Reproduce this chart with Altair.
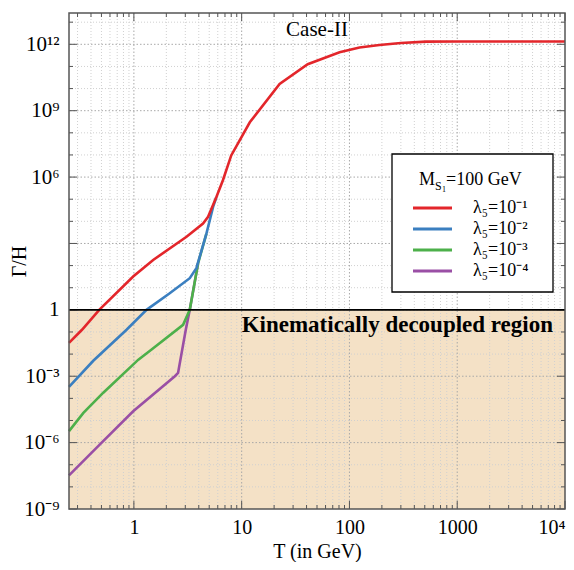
import altair as alt
import pandas as pd
import numpy as np

# ---------------- data ----------------
red_T = [0.25, 0.33, 0.477, 0.985, 1.51, 3.08, 4.38, 4.88, 5.83, 6.7, 8.0, 11.9, 22.5, 41, 81, 124, 190, 300, 515, 1000, 10000]
red_G = [3.2e-2, 1.26e-1, 1.0, 3.2e1, 1.8e2, 2.0e3, 7.9e3, 1.6e4, 1.26e5, 7.2e5, 9.5e6, 3.0e8, 1.6e10, 1.26e11, 4.4e11, 7.2e11, 9.3e11, 1.15e12, 1.32e12, 1.35e12, 1.35e12]

blue_T = [0.25, 0.42, 0.855, 1.31, 2.15, 3.3, 3.8, 4.71, 5.43, 5.83]
blue_G = [3.3e-4, 5.0e-3, 1.26e-1, 1.0, 5.6, 27, 76, 2.8e3, 4.5e4, 1.26e5]

green_T = [0.25, 0.34, 0.52, 1.1, 1.46, 2.86, 3.3, 3.94, 4.71]
green_G = [3.3e-6, 2.2e-5, 1.8e-4, 5.6e-3, 1.6e-2, 0.21, 1.0, 126, 2.8e3]

purple_T = [0.25, 0.484, 0.985, 2.4, 2.57, 3.03, 3.3, 3.94]
purple_G = [3.3e-8, 8.3e-7, 2.6e-5, 1.0e-3, 1.4e-3, 0.126, 1.0, 126]

series_labels = ["λ₅=10⁻¹", "λ₅=10⁻²", "λ₅=10⁻³", "λ₅=10⁻⁴"]
series_colors = ["#e3262b", "#3b7fc0", "#4db04a", "#9a4fa5"]
series_T = [red_T, blue_T, green_T, purple_T]
series_G = [red_G, blue_G, green_G, purple_G]

x_tick_values = [1, 10, 100, 1000, 10000]
x_tick_labels = ["1", "10", "100", "1000", "10⁴"]
y_tick_values = [1e-9, 1e-6, 1e-3, 1, 1e6, 1e9, 1e12]
y_tick_labels = ["10⁻⁹", "10⁻⁶", "10⁻³", "1", "10⁶", "10⁹", "10¹²"]

X_DOMAIN = [0.25, 1e4]
Y_DOMAIN = [1e-9, 2.6e13]
THRESHOLD = 1.0

W, H = 496, 496
FONT = "Liberation Serif"

xs = alt.Scale(type="log", domain=X_DOMAIN, nice=False)
ys = alt.Scale(type="log", domain=Y_DOMAIN, nice=False)


def label_expr(vals, labels):
    expr = "''"
    for v, l in zip(vals, labels):
        e = int(round(np.log10(v)))
        expr = f"(round(log(datum.value)/LN10) == {e}) ? '{l}' : " + expr
    return expr


# tick / grid positions
x_major = [1, 10, 100, 1000, 10000]
x_minor = [k * 10.0 ** d for d in range(-1, 4) for k in range(2, 10)
           if X_DOMAIN[0] <= k * 10.0 ** d <= X_DOMAIN[1]]
y_major = [10.0 ** e for e in range(-9, 13, 3)]
y_minor = [10.0 ** e for e in range(-8, 14) if e % 3 != 0]

one = pd.DataFrame({"a": [0]})

xaxis = alt.Axis(values=x_tick_values, labelExpr=label_expr(x_tick_values, x_tick_labels),
                 title="T (in GeV)", grid=False, ticks=False, tickSize=0, domain=False,
                 labelFont=FONT, labelFontSize=20, labelColor="black", labelPadding=24,
                 labelBaseline="alphabetic", labelFlush=True,
                 titleFont=FONT, titleFontSize=20, titleFontWeight="normal", titleColor="black",
                 titleBaseline="alphabetic", titleY=48)
yaxis = alt.Axis(values=y_tick_values, labelExpr=label_expr(y_tick_values, y_tick_labels),
                 title="Γ/H", grid=False, ticks=False, tickSize=0, domain=False,
                 labelFont=FONT, labelFontSize=21, labelColor="black", labelPadding=10,
                 labelAlign="right", labelBaseline="middle",
                 titleFont=FONT, titleFontSize=20, titleFontWeight="normal", titleColor="black",
                 titleBaseline="alphabetic", titleAngle=270, titleX=-44, titleY=H / 2)


def X(field):
    return alt.X(field, scale=xs, axis=xaxis)


def Y(field):
    return alt.Y(field, scale=ys, axis=yaxis)


layers = []

# shaded decoupled region
shade_df = pd.DataFrame({"x": [X_DOMAIN[0]], "x2": [X_DOMAIN[1]], "y": [Y_DOMAIN[0]], "y2": [THRESHOLD]})
layers.append(alt.Chart(shade_df).mark_rect(color="#f4e1c6").encode(
    x=X("x:Q"), x2="x2", y=Y("y:Q"), y2="y2"))


# grid
def vgrid(vals, color, dash):
    return alt.Chart(pd.DataFrame({"v": vals})).mark_rule(color=color, strokeDash=dash, strokeWidth=1).encode(
        x=X("v:Q"))


def hgrid(vals, color, dash):
    return alt.Chart(pd.DataFrame({"v": vals})).mark_rule(color=color, strokeDash=dash, strokeWidth=1).encode(
        y=Y("v:Q"))


layers.append(vgrid(x_minor, "#d0d0d0", [1, 2]))
layers.append(hgrid(y_minor, "#d0d0d0", [1, 2]))
layers.append(vgrid(x_major[:-1], "#a8a8a8", [1.5, 2]))
layers.append(hgrid(y_major[1:], "#a8a8a8", [1.5, 2]))


# frame ticks (inward)
def xticks(vals, length):
    d = pd.DataFrame({"v": vals})
    b = alt.Chart(d).mark_rule(color="#555", strokeWidth=1).encode(
        x=X("v:Q"), y=alt.value(H), y2=alt.value(H - length))
    t = alt.Chart(d).mark_rule(color="#555", strokeWidth=1).encode(
        x=X("v:Q"), y=alt.value(0), y2=alt.value(length))
    return [b, t]


def yticks(vals, length):
    d = pd.DataFrame({"v": vals})
    l = alt.Chart(d).mark_rule(color="#555", strokeWidth=1).encode(
        y=Y("v:Q"), x=alt.value(0), x2=alt.value(length))
    r = alt.Chart(d).mark_rule(color="#555", strokeWidth=1).encode(
        y=Y("v:Q"), x=alt.value(W), x2=alt.value(W - length))
    return [l, r]


layers += xticks(x_major, 8) + xticks(x_minor, 4)
layers += yticks(y_major, 8) + yticks(y_minor, 4)

# curves (purple at the bottom, red on top)
for T, G, c in reversed(list(zip(series_T, series_G, series_colors))):
    df = pd.DataFrame({"T": T, "G": G})
    layers.append(alt.Chart(df).mark_line(color=c, strokeWidth=2.6).encode(
        x=X("T:Q"), y=Y("G:Q")))

# threshold line
layers.append(alt.Chart(pd.DataFrame({"v": [THRESHOLD]})).mark_rule(color="black", strokeWidth=1.8).encode(
    y=Y("v:Q")))

# annotations
layers.append(alt.Chart(one).mark_text(text="Kinematically decoupled region", font=FONT, fontSize=23,
                                      fontWeight="bold", align="right", baseline="alphabetic",
                                      color="black").encode(x=alt.value(484), y=alt.value(319)))
layers.append(alt.Chart(one).mark_text(text="Case-II", font=FONT, fontSize=21, align="center",
                                      baseline="alphabetic", color="black").encode(
    x=alt.value(248), y=alt.value(23)))

# frame
layers.append(alt.Chart(one).mark_rect(filled=False, stroke="#555", strokeWidth=1.5).encode(
    x=alt.value(0), x2=alt.value(W), y=alt.value(0), y2=alt.value(H)))

# legend
layers.append(alt.Chart(one).mark_rect(fill="white", stroke="black", strokeWidth=1.3).encode(
    x=alt.value(323), x2=alt.value(484), y=alt.value(141), y2=alt.value(279)))
layers.append(alt.Chart(one).mark_text(text="M", font=FONT, fontSize=18, align="left",
                                      baseline="alphabetic", color="black").encode(x=alt.value(350), y=alt.value(172)))
layers.append(alt.Chart(one).mark_text(text="S", font=FONT, fontSize=12, align="left",
                                      baseline="alphabetic", color="black").encode(x=alt.value(366), y=alt.value(177)))
layers.append(alt.Chart(one).mark_text(text="1", font=FONT, fontSize=8, align="left",
                                      baseline="alphabetic", color="black").encode(x=alt.value(373), y=alt.value(179)))
layers.append(alt.Chart(one).mark_text(text="=100 GeV", font=FONT, fontSize=18, align="left",
                                      baseline="alphabetic", color="black").encode(x=alt.value(377), y=alt.value(172)))
for i, (lab, c) in enumerate(zip(series_labels, series_colors)):
    yy = 195 + 21 * i
    layers.append(alt.Chart(one).mark_rule(color=c, strokeWidth=3).encode(
        x=alt.value(344), x2=alt.value(383), y=alt.value(yy)))
    layers.append(alt.Chart(one).mark_text(text=lab, font=FONT, fontSize=18, align="left",
                                          baseline="middle", color="black").encode(
        x=alt.value(404), y=alt.value(yy)))

chart = alt.layer(*layers).properties(
    width=W, height=H,
    padding={"left": 61, "top": 5, "right": 1, "bottom": 53},
    autosize=alt.AutoSizeParams(type="none"),
    background="white",
).configure_view(stroke=None)

chart.save("out.html", embed_options={"renderer": "svg", "actions": False})
